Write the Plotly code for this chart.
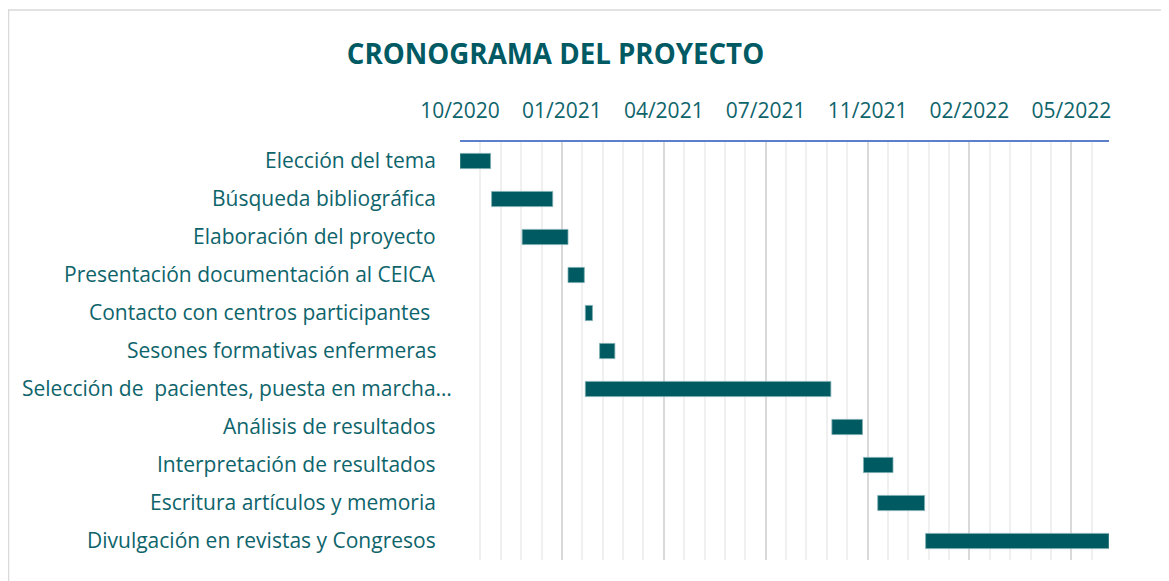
import plotly.graph_objects as go
import pandas as pd

# ---- data ----
tasks = [
    "Elección del tema",
    "Búsqueda bibliográfica",
    "Elaboración del proyecto",
    "Presentación documentación al CEICA",
    "Contacto con centros participantes ",
    "Sesones formativas enfermeras",
    "Selección de  pacientes, puesta en marcha…",
    "Análisis de resultados",
    "Interpretación de resultados",
    "Escritura artículos y memoria",
    "Divulgación en revistas y Congresos",
]
start_dates = [
    "2020-10-01", "2020-11-01", "2020-12-01", "2021-01-15", "2021-02-01",
    "2021-02-15", "2021-02-01", "2021-10-01", "2021-11-01", "2021-11-15",
    "2022-01-01",
]
end_dates = [
    "2020-10-31", "2020-12-31", "2021-01-15", "2021-01-31", "2021-02-08",
    "2021-03-02", "2021-09-30", "2021-10-31", "2021-11-30", "2021-12-31",
    "2022-06-30",
]
tick_dates = ["2020-10-01", "2021-01-09", "2021-04-19", "2021-07-28",
              "2021-11-05", "2022-02-13", "2022-05-24"]
tick_labels = ["10/2020", "01/2021", "04/2021", "07/2021", "11/2021", "02/2022", "05/2022"]
axis_min = "2020-10-01"
axis_max = "2022-06-30"

BAR = "#005A61"
TXT = "#0E646B"
FONT = "Open Sans"

starts = pd.to_datetime(start_dates)
ends = pd.to_datetime(end_dates)
durations_ms = [(e - s).total_seconds() * 1000 for s, e in zip(starts, ends)]

fig = go.Figure()
fig.add_trace(go.Bar(
    y=tasks,
    x=durations_ms,
    base=start_dates,
    orientation="h",
    width=0.4,
    marker=dict(color=BAR, line=dict(color="#7FAFB3", width=0.8)),
    hoverinfo="skip",
))

# y labels as annotations (the truncated label overhangs like the original)
for t in tasks:
    shift = 16 if t.endswith("…") else 0
    fig.add_annotation(
        x=0, xref="paper", y=t, yref="y",
        text=t,
        xanchor="right", yanchor="middle",
        xshift=-22 + shift, yshift=1,
        showarrow=False,
        font=dict(family=FONT, size=21, color=TXT),
    )

# outer chart border (Excel chart area)
fig.add_shape(type="rect", xref="paper", yref="paper",
              x0=-0.6957, x1=1.3, y0=-0.3, y1=1.3158,
              line=dict(color="#D9D9D9", width=1.5), fillcolor="rgba(0,0,0,0)", layer="below")

fig.update_layout(
    width=1169, height=581,
    margin=dict(l=452, r=68, t=134, b=29),
    paper_bgcolor="white", plot_bgcolor="white",
    showlegend=False,
    title=dict(text="<b>CRONOGRAMA DEL PROYECTO</b>",
               x=547.5 / 1169, y=1 - 46 / 581, xanchor="center", yanchor="middle",
               font=dict(family=FONT, size=27.7, color="#005A63")),
    font=dict(family=FONT, color=TXT),
)
fig.update_xaxes(
    type="date", side="top",
    range=[axis_min, axis_max],
    tickvals=tick_dates, ticktext=tick_labels,
    tickfont=dict(family=FONT, size=21, color=TXT),
    ticks="outside", ticklen=14, tickcolor="rgba(0,0,0,0)",
    showline=True, linecolor="#5B7FCB", linewidth=2,
    showgrid=True, gridcolor="#D9D9D9", gridwidth=1.5,
    minor=dict(dtick=20 * 86400000, tick0=axis_min, showgrid=True,
               gridcolor="#F0F0F0", gridwidth=1.5),
    zeroline=False,
)
fig.update_yaxes(
    autorange="reversed", showticklabels=False, showgrid=False,
    zeroline=False, showline=False,
)

fig.write_html("out.html")
